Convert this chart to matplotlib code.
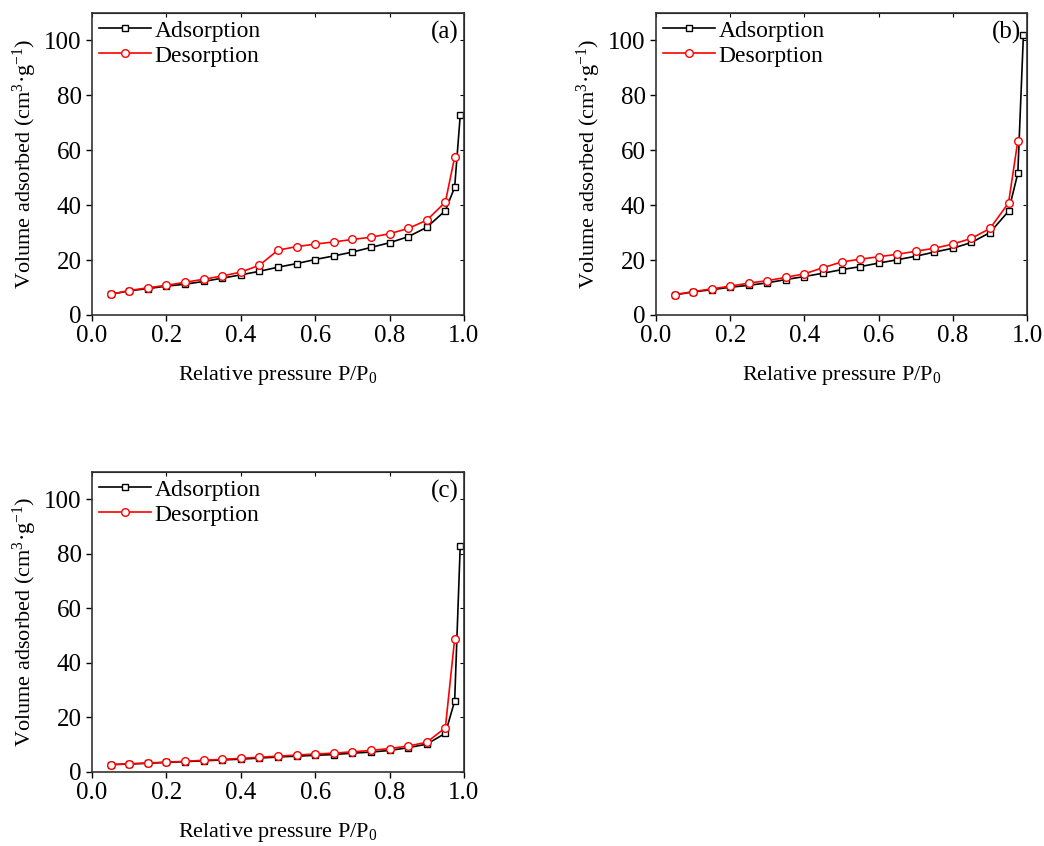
import numpy as np
import matplotlib
matplotlib.use("Agg")
import matplotlib.pyplot as plt

# relative pressure points
p_ads = [0.05, 0.10, 0.15, 0.20, 0.25, 0.30, 0.35, 0.40, 0.45, 0.50, 0.55,
         0.60, 0.65, 0.70, 0.75, 0.80, 0.85, 0.90, 0.95, 0.975, 0.99]
p_des = p_ads[:-1]

# panel (a)
ads_a = [7.5, 8.8, 9.6, 10.5, 11.2, 12.2, 13.4, 14.6, 15.9, 17.4, 18.7,
         20.2, 21.5, 22.9, 24.6, 26.3, 28.5, 31.9, 38.0, 46.5, 72.7]
des_a = [7.5, 8.9, 9.9, 10.8, 11.9, 13.0, 14.2, 15.6, 18.1, 23.6, 24.9,
         25.8, 26.6, 27.5, 28.3, 29.6, 31.5, 34.5, 41.1, 57.5]

# panel (b)
ads_b = [7.3, 8.4, 9.2, 10.1, 10.8, 11.7, 12.9, 14.0, 15.2, 16.5, 17.6,
         18.9, 20.1, 21.4, 22.9, 24.3, 26.4, 30.0, 37.8, 51.6, 101.8]
des_b = [7.4, 8.5, 9.5, 10.5, 11.6, 12.5, 13.7, 15.0, 17.2, 19.3, 20.3,
         21.2, 22.1, 23.2, 24.3, 25.8, 27.9, 31.5, 40.8, 63.4]

# panel (c)
ads_c = [2.7, 2.9, 3.2, 3.5, 3.8, 4.1, 4.4, 4.7, 5.1, 5.5, 5.8,
         6.1, 6.4, 6.9, 7.3, 7.9, 8.9, 10.2, 14.2, 26.0, 83.0]
des_c = [2.7, 3.0, 3.3, 3.6, 3.9, 4.3, 4.6, 5.0, 5.4, 5.8, 6.2,
         6.6, 6.9, 7.4, 7.9, 8.6, 9.5, 10.9, 16.2, 48.8]

panels = [("(a)", ads_a, des_a), ("(b)", ads_b, des_b), ("(c)", ads_c, des_c)]

plt.rcParams['font.family'] = ['Liberation Serif', 'DejaVu Serif']
plt.rcParams['mathtext.fontset'] = 'custom'
plt.rcParams['mathtext.rm'] = 'Liberation Serif'
plt.rcParams['mathtext.it'] = 'Liberation Serif:italic'

fig = plt.figure(figsize=(10.44, 8.46), dpi=100)
positions = [[0.0881, 0.6277, 0.3563, 0.357],
             [0.6284, 0.6277, 0.3554, 0.357],
             [0.0881, 0.0875, 0.3563, 0.3546]]

for (tag, ads, des), pos in zip(panels, positions):
    ax = fig.add_axes(pos)
    ax.plot(p_ads, ads, color='black', lw=1.2, marker='s', ms=5,
            mfc='white', mec='black', mew=1.0, label='Adsorption')
    ax.plot(p_des, des, color='red', lw=1.2, marker='o', ms=5.5,
            mfc='white', mec='red', mew=1.0, label='Desorption')
    ax.set_xlim(0, 1.0)
    ax.set_ylim(0, 110)
    ax.set_xticks(np.arange(0, 1.01, 0.2))
    ax.set_yticks(np.arange(0, 101, 20))
    ax.xaxis.set_major_formatter(matplotlib.ticker.FormatStrFormatter('%.1f'))
    ax.tick_params(axis='both', labelsize=18, length=4, width=1, direction='out')
    for s in ax.spines.values():
        s.set_color('#333333')
        s.set_linewidth(1.2)
    # inward ticks on top and right
    sec_x = ax.secondary_xaxis('top')
    sec_x.set_xticks(np.arange(0, 1.01, 0.2))
    sec_x.tick_params(direction='in', length=3, labeltop=False)
    sec_y = ax.secondary_yaxis('right')
    sec_y.set_yticks(np.arange(0, 101, 20))
    sec_y.tick_params(direction='in', length=3, labelright=False)
    ax.set_xlabel('Relative pressure P/P$_{0}$', fontsize=16, labelpad=12)
    ax.set_ylabel('Volume adsorbed (cm$^{3}$·g$^{-1}$)', fontsize=16, labelpad=4)
    ax.legend(loc='upper left', frameon=False, fontsize=17, handlelength=2.2,
              handletextpad=0.15, labelspacing=0.15, borderaxespad=0.1,
              borderpad=0.2)
    ax.text(0.985, 0.975, tag, transform=ax.transAxes, ha='right', va='top',
            fontsize=18)

fig.savefig('out.png', dpi=100)
